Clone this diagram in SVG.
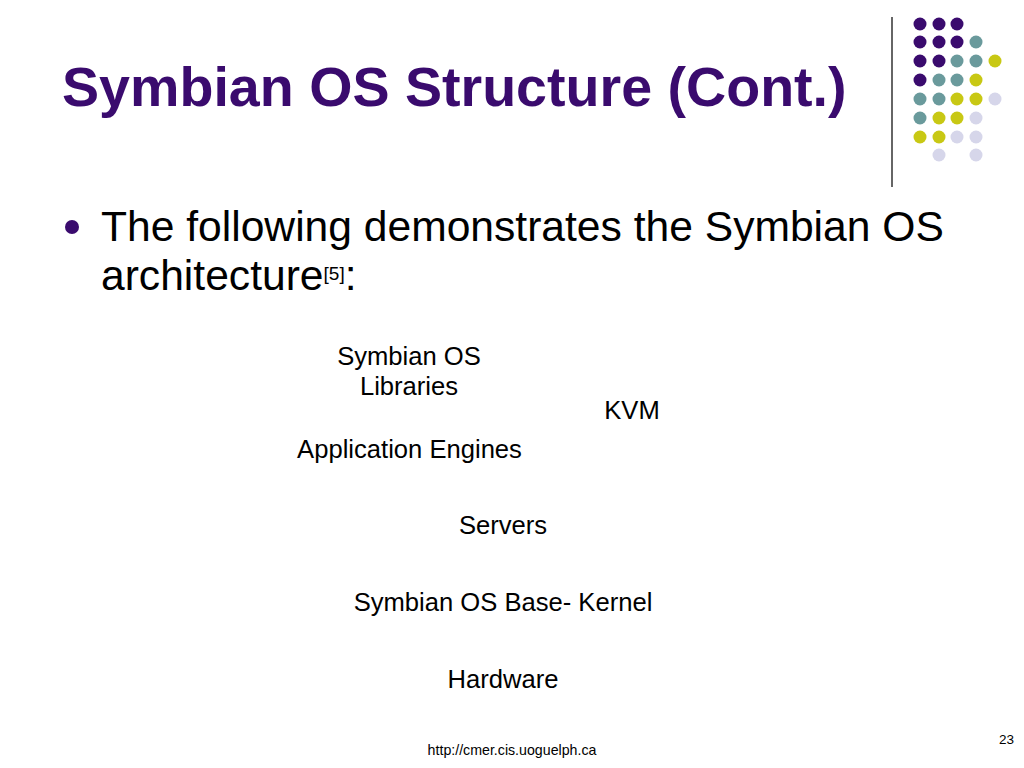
<svg xmlns="http://www.w3.org/2000/svg" width="1024" height="768" viewBox="0 0 1024 768">
<style>
.t{font-family:"Liberation Sans",Arial,sans-serif;fill:#000}
.lbl{font-size:25.6px;text-anchor:middle}
.p{fill:#3A0B6E}.g{fill:#6A9A9C}.y{fill:#C8C814}.l{fill:#D6D6EA}
</style>
<rect width="1024" height="768" fill="#fff"/>
<g id="decor">
<line x1="892" y1="17" x2="892" y2="187" stroke="#333" stroke-width="1.5"/>
<circle class="p" cx="920" cy="24" r="6.5"/><circle class="p" cx="939" cy="24" r="6.5"/><circle class="p" cx="957" cy="24" r="6.5"/>
<circle class="p" cx="920" cy="42" r="6.5"/><circle class="p" cx="939" cy="42" r="6.5"/><circle class="p" cx="957" cy="42" r="6.5"/><circle class="g" cx="976" cy="42" r="6.5"/>
<circle class="p" cx="920" cy="61" r="6.5"/><circle class="p" cx="939" cy="61" r="6.5"/><circle class="g" cx="957" cy="61" r="6.5"/><circle class="g" cx="976" cy="61" r="6.5"/><circle class="y" cx="995" cy="61" r="6.5"/>
<circle class="p" cx="920" cy="80" r="6.5"/><circle class="g" cx="939" cy="80" r="6.5"/><circle class="g" cx="957" cy="80" r="6.5"/><circle class="y" cx="976" cy="80" r="6.5"/>
<circle class="g" cx="920" cy="99" r="6.5"/><circle class="g" cx="939" cy="99" r="6.5"/><circle class="y" cx="957" cy="99" r="6.5"/><circle class="y" cx="976" cy="99" r="6.5"/><circle class="l" cx="995" cy="99" r="6.5"/>
<circle class="g" cx="920" cy="118" r="6.5"/><circle class="y" cx="939" cy="118" r="6.5"/><circle class="y" cx="957" cy="118" r="6.5"/><circle class="l" cx="976" cy="118" r="6.5"/>
<circle class="y" cx="920" cy="137" r="6.5"/><circle class="y" cx="939" cy="137" r="6.5"/><circle class="l" cx="957" cy="137" r="6.5"/><circle class="l" cx="976" cy="137" r="6.5"/>
<circle class="l" cx="939" cy="155" r="6.5"/><circle class="l" cx="976" cy="155" r="6.5"/>
</g>
<g id="title">
<text class="t" x="62" y="106" font-size="55.6" font-weight="bold" style="fill:#3A0B6E">Symbian OS Structure (Cont.)</text>
</g>
<g id="bullet">
<circle class="p" cx="72" cy="227" r="7"/>
<text class="t" x="101" y="241" font-size="42.6">The following demonstrates the Symbian OS</text>
<text class="t" x="101" y="290" font-size="42.6">architecture<tspan font-size="19" dy="-10">[5]</tspan><tspan dy="10">:</tspan></text>
</g>
<g id="connectors"></g>
<g id="n-libraries"><text class="t lbl" x="409" y="365">Symbian OS</text><text class="t lbl" x="409" y="395">Libraries</text></g>
<g id="n-kvm"><text class="t lbl" x="632" y="419">KVM</text></g>
<g id="n-engines"><text class="t lbl" x="409.5" y="458">Application Engines</text></g>
<g id="n-servers"><text class="t lbl" x="503" y="534">Servers</text></g>
<g id="n-kernel"><text class="t lbl" x="503" y="611">Symbian OS Base- Kernel</text></g>
<g id="n-hardware"><text class="t lbl" x="503" y="688">Hardware</text></g>
<g id="footer">
<text class="t" x="512" y="755" font-size="14.2" text-anchor="middle">http://cmer.cis.uoguelph.ca</text>
<text class="t" x="1014" y="744" font-size="13.5" text-anchor="end">23</text>
</g>
</svg>
